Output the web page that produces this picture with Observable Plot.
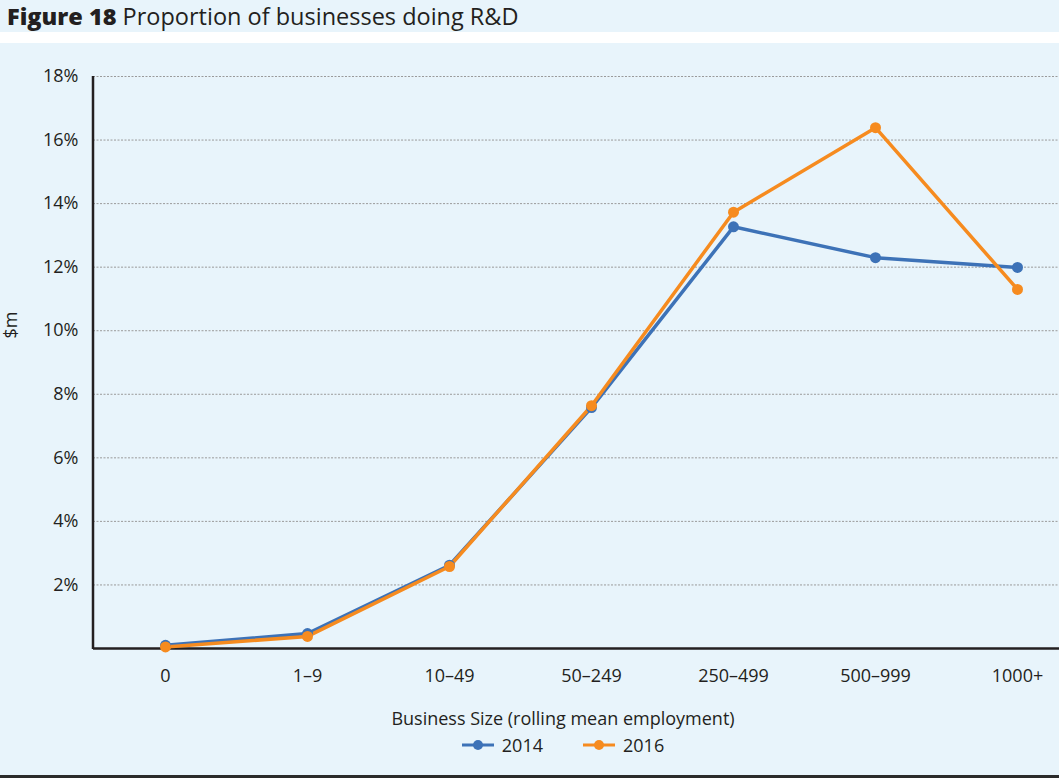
<!DOCTYPE html>
<html>
<head>
<meta charset="utf-8">
<script src="https://cdn.jsdelivr.net/npm/d3@7"></script>
<script src="https://cdn.jsdelivr.net/npm/@observablehq/plot@0.6"></script>
<style>
  html, body { margin: 0; padding: 0; background: #ffffff; }
  body { width: 1059px; font-family: "Open Sans", sans-serif; color: #231f20; }
  #title { height: 32px; background: #e8f4fb; font-size: 23.5px; line-height: 33px; padding-left: 7px; white-space: nowrap; color: #231f20; font-weight: 500; }
  #title b { font-weight: 800; }
  #gap { height: 11px; background: #fff; }
  #panel { background: #e8f4fb; height: 732px; position: relative; border-bottom: 3px solid #2b2b2b; }
  #chart svg { display: block; }
  #xlabel { position: absolute; left: 0; width: 1126px; top: 663px; text-align: center; font-size: 18px; color: #231f20; }
  #legend { position: absolute; left: 0; width: 1126px; top: 689px; text-align: center; font-size: 18px; color: #231f20; }
  .item { display: inline-flex; align-items: center; margin: 0 20px; }
  .item svg { margin-right: 8px; }
  #ylabel { position: absolute; left: 10px; top: 282px; transform: translate(-50%, -50%) rotate(-90deg); font-size: 18px; color: #231f20; white-space: nowrap; }
</style>
</head>
<body>
<div id="title"><b>Figure 18</b> Proportion of businesses doing R&amp;D</div>
<div id="gap"></div>
<div id="panel">
  <div id="chart"></div>
  <div id="ylabel">$m</div>
  <div id="xlabel">Business Size (rolling mean employment)</div>
  <div id="legend"></div>
</div>
<script>
const categories = ["0", "1–9", "10–49", "50–249", "250–499", "500–999", "1000+"];
const years = ["2014", "2016"];
const values2014 = [0.10, 0.47, 2.62, 7.58, 13.27, 12.30, 11.99];
const values2016 = [0.05, 0.38, 2.58, 7.64, 13.73, 16.39, 11.30];
const colors = ["#3d72b7", "#f68b1f"];
const yTicks = [2, 4, 6, 8, 10, 12, 14, 16, 18];

const data = [];
categories.forEach((c, i) => {
  data.push({cat: c, year: years[0], v: values2014[i]});
  data.push({cat: c, year: years[1], v: values2016[i]});
});

const marginTop = 33, marginBottom = 45, marginLeft = 93, height = 650;

const chart = Plot.plot({
  width: 1059,
  height,
  marginTop,
  marginBottom,
  marginLeft,
  marginRight: 0,
  style: { background: "transparent", fontFamily: "'Open Sans', sans-serif", fontSize: "18px", color: "#231f20", overflow: "visible" },
  x: { type: "point", domain: categories, range: [163.5, 1018.5], padding: 0, label: null },
  y: { domain: [0, 18], label: null },
  color: { domain: years, range: colors },
  marks: [
    Plot.ruleY(yTicks, { stroke: "#9a9a9a", strokeWidth: 1, strokeDasharray: "2,1.5" }),
    Plot.axisY(yTicks, { tickSize: 0, tickPadding: 15, tickFormat: d => d + "%", fontSize: 18, label: null }),
    Plot.axisX({ tickSize: 0, tickPadding: 21, fontSize: 18, label: null }),
    Plot.ruleY([0], { stroke: "#231f20", strokeWidth: 2.5 }),
    Plot.line(data, { x: "cat", y: "v", z: "year", stroke: "year", strokeWidth: 3.5, strokeLinejoin: "round" }),
    Plot.dot(data, { x: "cat", y: "v", fill: "year", r: 5.5 })
  ]
});

// vertical left axis line drawn from the y scale
const yScale = chart.scale("y");
d3.select(chart).append("line")
  .attr("x1", marginLeft).attr("x2", marginLeft)
  .attr("y1", yScale.apply(18)).attr("y2", yScale.apply(0) + 1)
  .attr("stroke", "#231f20").attr("stroke-width", 2.5);

document.getElementById("chart").appendChild(chart);

const legend = document.getElementById("legend");
years.forEach((y, i) => {
  const item = document.createElement("span");
  item.className = "item";
  item.innerHTML = `<svg width="32" height="12"><line x1="0" x2="32" y1="6" y2="6" stroke="${colors[i]}" stroke-width="3"/><circle cx="16" cy="6" r="5" fill="${colors[i]}"/></svg>${y}`;
  legend.appendChild(item);
});
</script>
</body>
</html>
